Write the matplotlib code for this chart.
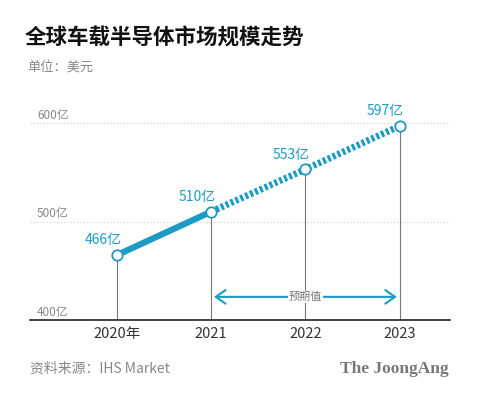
import numpy as np
import matplotlib
matplotlib.use("Agg")
import matplotlib.pyplot as plt

plt.rcParams['font.family'] = ['Noto Sans CJK SC', 'DejaVu Sans']

years = ["2020年", "2021", "2022", "2023"]
values = [466, 510, 553, 597]
value_labels = ["466亿", "510亿", "553亿", "597亿"]
ytick_values = [400, 500, 600]
ytick_labels = ["400亿", "500亿", "600亿"]

blue = "#1c9bc4"
gray = "#777777"

fig = plt.figure(figsize=(4.8, 3.94), dpi=100)
ax = fig.add_axes([0.0625, 0.1878, 0.875, 0.55])
x = np.arange(len(years))

ax.set_xlim(-0.924, 3.535)
ax.set_ylim(400, 620)

# grid lines
for v in ytick_values[1:]:
    ax.axhline(v, color="#cccccc", lw=0.8, ls=(0, (1, 2)), zorder=1)
for v, lab in zip(ytick_values, ytick_labels):
    ax.text(-0.85, v + 1.5, lab, fontsize=8.5, color="#888888", ha="left", va="bottom")

# drop lines
ax.vlines(x, 400, values, color="#777777", lw=0.8, zorder=2)

# actual and forecast
ax.plot(x[:2], values[:2], color=blue, lw=4.5, solid_capstyle="butt", zorder=3)
ax.plot(x[1:], values[1:], color=blue, lw=4.8, ls=(0, (0.45, 0.35)), zorder=3)
ax.plot(x, values, "o", ms=7.5, mfc="white", mec=blue, mew=1.3, zorder=4)

for xi, v, lab in zip(x, values, value_labels):
    ax.text(xi - 0.15, v + 15, lab, fontsize=10, color=blue, ha="center", va="center")

# forecast arrow
ax.annotate("", xy=(3, 423.5), xytext=(1, 423.5),
            arrowprops=dict(arrowstyle="<->,head_length=0.5,head_width=0.35",
                            color=blue, lw=1.5, mutation_scale=14))
ax.text(2, 423.5, "预期值", fontsize=8, color=gray, ha="center", va="center",
        bbox=dict(facecolor="white", edgecolor="none", pad=0.5))

for s in ["top", "right", "left"]:
    ax.spines[s].set_visible(False)
ax.spines["bottom"].set_color("#222222")
ax.spines["bottom"].set_linewidth(1.2)
ax.set_yticks([])
ax.set_xticks(x)
ax.set_xticklabels(years, fontsize=10.5, color="#333333")
ax.tick_params(axis="x", length=0, pad=5)

fig.text(25 / 480, 1 - 38 / 394, "全球车载半导体市场规模走势", fontsize=15.5, fontweight="bold",
         color="#111111", ha="left", va="center")
fig.text(27 / 480, 1 - 67 / 394, "单位：美元", fontsize=9.5, color="#888888", ha="left", va="center")
fig.text(30 / 480, 1 - 369 / 394, "资料来源：IHS Market", fontsize=10, color="#888888",
         ha="left", va="center")
fig.text(449 / 480, 1 - 369 / 394, "The JoongAng", fontsize=12.5, fontweight="bold",
         family="Liberation Serif", color="#777777", ha="right", va="center")

fig.savefig("out.png", dpi=100, facecolor="white")
